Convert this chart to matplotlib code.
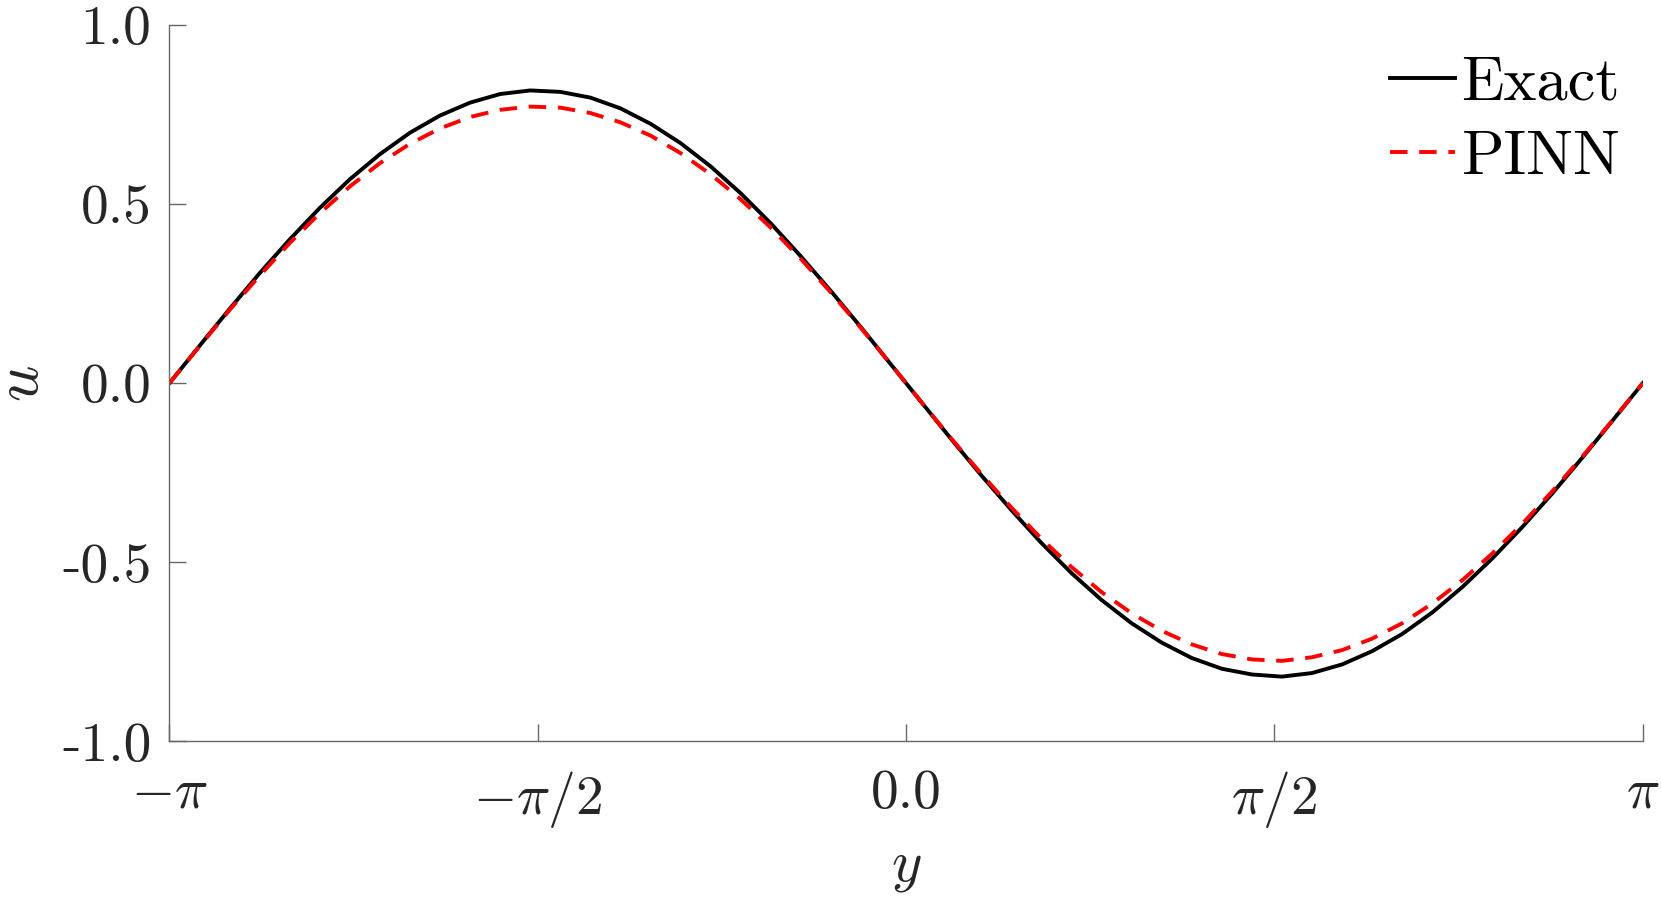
import numpy as np
from matplotlib import pyplot as plt

plt.rcParams["font.family"] = "serif"
plt.rcParams["font.serif"] = ["cmr10", "DejaVu Serif"]
plt.rcParams["mathtext.fontset"] = "cm"
plt.rcParams["axes.unicode_minus"] = False

########################## values ##########################
# 50 samples on [-pi, pi]
y_grid = np.linspace(-np.pi, np.pi, 50)

u_exact = [0.000, 0.104, 0.207, 0.307, 0.401, 0.489, 0.569, 0.639, 0.699, 0.747,
           0.783, 0.807, 0.817, 0.813, 0.797, 0.767, 0.724, 0.670, 0.605, 0.530,
           0.446, 0.354, 0.257, 0.156, 0.052, -0.052, -0.156, -0.257, -0.354, -0.446,
           -0.530, -0.605, -0.670, -0.724, -0.767, -0.797, -0.813, -0.819, -0.809, -0.785,
           -0.748, -0.700, -0.640, -0.569, -0.489, -0.401, -0.307, -0.207, -0.104, 0.000]

u_pinn = [0.000, 0.103, 0.204, 0.300, 0.391, 0.474, 0.549, 0.614, 0.668, 0.711,
          0.743, 0.763, 0.772, 0.769, 0.754, 0.728, 0.691, 0.642, 0.583, 0.513,
          0.434, 0.347, 0.253, 0.154, 0.052, -0.052, -0.154, -0.253, -0.347, -0.434,
          -0.513, -0.583, -0.642, -0.691, -0.729, -0.756, -0.771, -0.775, -0.765, -0.745,
          -0.713, -0.670, -0.615, -0.550, -0.475, -0.392, -0.301, -0.204, -0.103, 0.000]

x_ticks = [-np.pi, -np.pi / 2, 0.0, np.pi / 2, np.pi]
x_tick_labels = [r"$-\pi$", r"$-\pi/2$", "0.0", r"$\pi/2$", r"$\pi$"]
y_ticks = [-1.0, -0.5, 0.0, 0.5, 1.0]
y_tick_labels = ["-1.0", "-0.5", "0.0", "0.5", "1.0"]
##################################################################################

fig = plt.figure(figsize=(16.61, 8.98), dpi=100)
ax = fig.add_axes([0.102, 0.1743, 0.887, 0.798])

ax.plot(y_grid, u_exact, color="black", lw=2.8, label="Exact")
ax.plot(y_grid, u_pinn, color="red", lw=2.8, dashes=(4.5, 3.0), label="PINN")

ax.set_xlim(-np.pi, np.pi)
ax.set_ylim(-1.0, 1.0)
ax.set_xticks(x_ticks)
ax.set_xticklabels(x_tick_labels)
ax.set_yticks(y_ticks)
ax.set_yticklabels(y_tick_labels)

for side in ["top", "right"]:
    ax.spines[side].set_visible(False)
for side in ["left", "bottom"]:
    ax.spines[side].set_color("#666666")
    ax.spines[side].set_linewidth(1.0)

ax.tick_params(axis="both", direction="in", length=12, width=1.0, color="#666666",
               labelsize=40, labelcolor="#262626")
ax.tick_params(axis="y", pad=13)
ax.tick_params(axis="x", pad=20)

ax.set_xlabel(r"$y$", fontsize=42, color="#262626", labelpad=9)
ax.set_ylabel(r"$u$", fontsize=46, color="#262626", labelpad=8)

ax.legend(loc="upper right", bbox_to_anchor=(1.006, 1.0), frameon=False, fontsize=45,
          handlelength=1.05, handletextpad=0.1, labelspacing=0.3, borderaxespad=0.1)

plt.savefig("out.png", dpi=100)
